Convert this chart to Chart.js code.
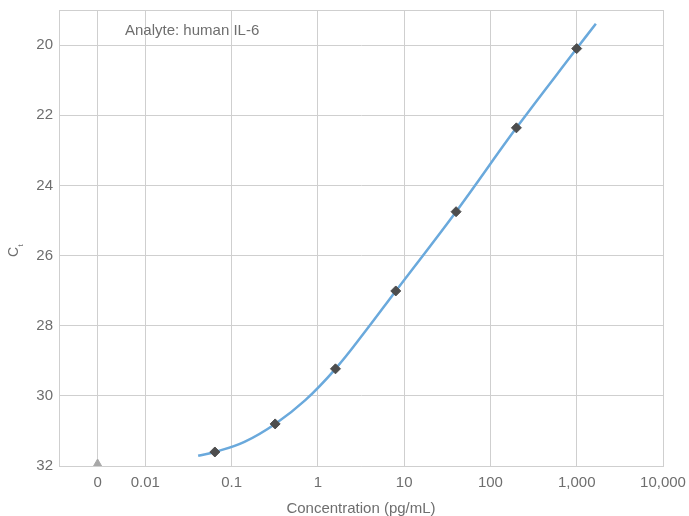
<!DOCTYPE html>
<html>
<head>
<meta charset="utf-8">
<script src="https://cdn.jsdelivr.net/npm/chart.js@4/dist/chart.umd.min.js"></script>
<style>
  html, body { margin: 0; padding: 0; background: #ffffff; }
  #wrap { width: 689px; height: 516px; position: relative; }
</style>
</head>
<body>
<div id="wrap"><canvas id="c" width="689" height="516"></canvas></div>
<script>
// ---- data ----
const ZERO_POSITION = 0.0028;             // where the "0" concentration is placed on the log axis
const standardConc = [0.064, 0.32, 1.6, 8, 40, 200, 1000];
const standardCt   = [31.60, 30.80, 29.23, 27.01, 24.75, 22.36, 20.10];
const zeroConc = [ZERO_POSITION];
const zeroCt   = [32.0];
const curveConc = [0.041, 0.064, 0.141, 0.32, 0.71, 1.6, 3.55, 8, 40, 200, 1000, 1667];
const curveCt   = [31.71, 31.60, 31.31, 30.80, 30.13, 29.23, 28.16, 27.01, 24.75, 22.36, 20.10, 19.39];
const xTickValues = [ZERO_POSITION, 0.01, 0.1, 1, 10, 100, 1000, 10000];
const xTickLabels = ['0', '0.01', '0.1', '1', '10', '100', '1,000', '10,000'];
const yTickValues = [20, 22, 24, 26, 28, 30, 32];
const annotationText = 'Analyte: human IL-6';
const xTitle = 'Concentration (pg/mL)';
const yTitleMain = 'C';
const yTitleSub = 't';

const toXY = (xs, ys) => xs.map((x, i) => ({ x: x, y: ys[i] }));

const TEXT = '#6e6e6e';
const GRID = '#cfcfcf';
const FONT = "'Liberation Sans', Arial, sans-serif";

const noScalePadding = (scale) => {
  scale.paddingTop = 0; scale.paddingBottom = 0;
  scale.paddingLeft = 0; scale.paddingRight = 0;
};

const framePlugin = {
  id: 'frame',
  beforeDatasetsDraw(chart) {
    const a = chart.chartArea, ctx = chart.ctx;
    ctx.save();
    ctx.strokeStyle = GRID;
    ctx.lineWidth = 1;
    ctx.beginPath();
    ctx.moveTo(a.left, a.top + 0.5);
    ctx.lineTo(a.right, a.top + 0.5);
    ctx.stroke();
    ctx.restore();
  },
  afterDraw(chart) {
    const ctx = chart.ctx;
    ctx.save();
    // annotation
    ctx.fillStyle = TEXT;
    ctx.font = '15px ' + FONT;
    ctx.textAlign = 'left';
    ctx.textBaseline = 'middle';
    ctx.fillText(annotationText, 125, 31);
    // y axis title  C with subscript t, rotated
    ctx.translate(18, 257);
    ctx.rotate(-Math.PI / 2);
    ctx.textBaseline = 'alphabetic';
    ctx.font = '14px ' + FONT;
    ctx.fillText(yTitleMain, 0, 0);
    const w = ctx.measureText(yTitleMain).width;
    ctx.font = '8px ' + FONT;
    ctx.fillText(yTitleSub, w + 0.5, 5);
    ctx.restore();
  }
};

new Chart(document.getElementById('c'), {
  type: 'scatter',
  data: {
    datasets: [
      {
        label: 'fit',
        data: toXY(curveConc, curveCt),
        showLine: true,
        borderColor: '#6aa9dc',
        borderWidth: 2.5,
        pointRadius: 0,
        pointHoverRadius: 0,
        tension: 0.4,
        order: 3
      },
      {
        label: 'standards',
        data: toXY(standardConc, standardCt),
        showLine: false,
        pointStyle: 'rectRot',
        pointRadius: 5,
        backgroundColor: '#4d4d4d',
        borderColor: '#4d4d4d',
        borderWidth: 1,
        order: 1
      },
      {
        label: 'zero',
        data: toXY(zeroConc, zeroCt),
        showLine: false,
        pointStyle: 'triangle',
        pointRadius: 7,
        backgroundColor: '#a8a8a8',
        borderColor: '#a8a8a8',
        borderWidth: 1,
        clip: 0,
        order: 2
      }
    ]
  },
  options: {
    responsive: false,
    animation: false,
    devicePixelRatio: 1,
    layout: { padding: { left: 0, right: 26, top: 10, bottom: 0 } },
    plugins: {
      legend: { display: false },
      tooltip: { enabled: false }
    },
    scales: {
      x: {
        type: 'logarithmic',
        min: 0.001,
        max: 10000,
        afterBuildTicks(scale) {
          scale.ticks = xTickValues.map(v => ({ value: v }));
        },
        afterFit(scale) { scale.height = 50; noScalePadding(scale); },
        grid: { color: GRID, lineWidth: 1, drawTicks: false },
        border: { color: GRID, width: 1 },
        ticks: {
          padding: 8,
          color: TEXT,
          font: { size: 15, family: FONT },
          maxRotation: 0,
          autoSkip: false,
          callback: (v, i) => xTickLabels[i]
        },
        title: {
          display: true,
          text: xTitle,
          color: TEXT,
          font: { size: 15, family: FONT },
          padding: { top: 0, bottom: -2 }
        }
      },
      y: {
        type: 'linear',
        reverse: true,
        min: 19,
        max: 32,
        afterBuildTicks(scale) {
          scale.ticks = yTickValues.map(v => ({ value: v }));
        },
        afterFit(scale) { scale.width = 59; noScalePadding(scale); },
        grid: { color: GRID, lineWidth: 1, drawTicks: false },
        border: { color: GRID, width: 1 },
        ticks: {
          padding: 6,
          color: TEXT,
          font: { size: 15, family: FONT },
          autoSkip: false
        }
      }
    }
  },
  plugins: [framePlugin]
});
</script>
</body>
</html>
